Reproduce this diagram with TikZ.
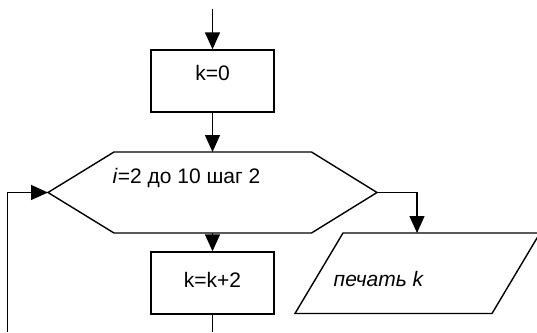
\documentclass[tikz,border=0pt]{standalone}
\usepackage{fontspec}
\setmainfont{Liberation Sans}
\usetikzlibrary{arrows.meta}
\begin{document}
\begin{tikzpicture}[x=1pt,y=-1pt,
  line width=1.4pt,
  font=\fontsize{21}{25}\selectfont,
  arr/.style={-{Triangle[length=17pt,width=15pt]}},
  procbox/.style={draw,minimum width=123pt,minimum height=62pt,inner sep=0pt},
  lbl/.style={inner sep=0pt,anchor=west}]
\useasboundingbox (0,0) rectangle (537,332);
% nodes
\coordinate (start) at (212.5,8.5);
\node[procbox,label={[yshift=8pt,font=\fontsize{21}{25}\selectfont]center:k=0}] (k0) at (212.5,81) {};
\coordinate (hT) at (212.5,152);
\coordinate (hB) at (212.5,233);
\coordinate (hL) at (48,192.5);
\coordinate (hR) at (377,192.5);
\draw (114,152) -- (311.5,152) -- (hR) -- (311.5,233) -- (114,233) -- (hL) -- cycle;
\node[lbl] (hlabel) at (112,178) {\textit{i}=2 до 10 шаг 2};
\node[procbox,label={[yshift=3.5pt,font=\fontsize{21}{25}\selectfont]center:k=k+2}] (k2) at (212.5,283) {};
\coordinate (bot) at (212.5,332);
\coordinate (loopB) at (7.5,332);
\coordinate (prT) at (417,233);
\begin{scope}
\clip (0,0) rectangle (537,332);
\draw (343,233) -- (540,233) -- (492,313.5) -- (295,313.5) -- cycle;
\end{scope}
\node[lbl] (pr) at (333,279) {\textit{печать k}};
% connectors
\draw[arr] (start) -- (k0.north);
\draw[arr] (k0.south) -- (hT);
\draw[arr] (hB) -- (k2.north);
\draw (k2.south) -- (bot);
\draw[arr] (loopB) |- (hL);
\draw[arr] (hR) -| (prT);
\end{tikzpicture}
\end{document}
